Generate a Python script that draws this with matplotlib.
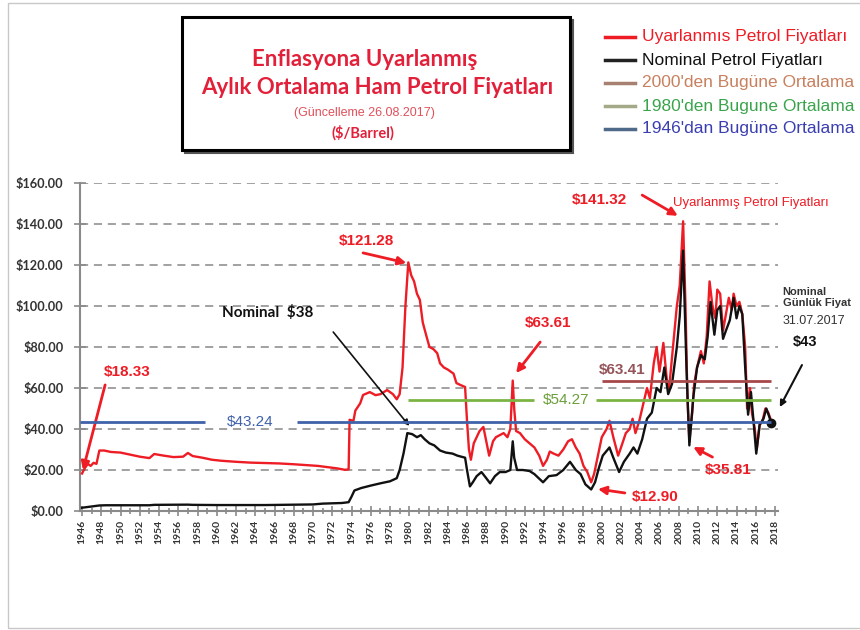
import matplotlib
matplotlib.use('Agg')
import matplotlib.pyplot as plt
from matplotlib.lines import Line2D
from matplotlib.patches import Rectangle

# enflasyona uyarlanmis aylik ortalama ham petrol fiyati ($/varil)
adj_years = [1946.0, 1946.3, 1946.6, 1946.9, 1947.2, 1947.5, 1947.8, 1948.3, 1949.0, 1950.0,
             1951.0, 1952.0, 1953.0, 1953.5, 1954.5, 1955.5, 1956.5, 1957.0, 1957.5, 1958.5,
             1959.5, 1960.5, 1962.0, 1963.5, 1965.0, 1966.5, 1968.0, 1969.5, 1970.5, 1971.5,
             1972.5, 1973.3, 1973.7, 1973.8, 1974.2, 1974.4, 1974.9, 1975.2, 1975.9, 1976.5,
             1977.0, 1977.7, 1978.3, 1978.7, 1979.0, 1979.3, 1979.6, 1979.9, 1980.2, 1980.5,
             1980.8, 1981.1, 1981.4, 1981.8, 1982.1, 1982.5, 1982.9, 1983.2, 1983.6, 1984.0,
             1984.6, 1984.9, 1985.3, 1985.8, 1986.0, 1986.2, 1986.4, 1986.7, 1987.0, 1987.3,
             1987.7, 1988.0, 1988.3, 1988.7, 1989.0, 1989.4, 1989.8, 1990.2, 1990.5, 1990.75,
             1990.9, 1991.1, 1991.5, 1992.0, 1992.5, 1993.0, 1993.5, 1993.9, 1994.3, 1994.6,
             1995.0, 1995.5, 1996.0, 1996.5, 1996.9, 1997.3, 1997.7, 1998.1, 1998.5, 1998.9,
             1999.2, 1999.6, 2000.0, 2000.5, 2000.8, 2001.2, 2001.7, 2002.0, 2002.5, 2002.9,
             2003.2, 2003.5, 2003.9, 2004.3, 2004.7, 2005.0, 2005.4, 2005.7, 2006.0, 2006.4,
             2006.8, 2007.0, 2007.4, 2007.8, 2008.1, 2008.45, 2008.7, 2008.9, 2009.1, 2009.4,
             2009.6, 2009.9, 2010.3, 2010.6, 2010.9, 2011.2, 2011.5, 2011.8, 2012.0, 2012.3,
             2012.6, 2012.9, 2013.2, 2013.5, 2013.7, 2014.0, 2014.3, 2014.6, 2014.9, 2015.1,
             2015.4, 2015.6, 2015.9, 2016.1, 2016.4, 2016.7, 2017.0, 2017.3, 2017.6]
adj_prices = [18.3, 21, 23, 22, 23.5, 23, 29.5, 29.5, 28.8, 28.5,
              27.5, 26.5, 25.8, 27.8, 27, 26.3, 26.5, 28.3, 26.8, 26,
              25, 24.5, 24, 23.6, 23.4, 23.2, 22.8, 22.3, 22, 21.4,
              20.8, 20.1, 20.3, 44.5, 44, 49, 52.5, 56.6, 58, 56.5,
              57, 59, 57, 54.5, 57, 70, 100, 121.28, 115, 112,
              106, 103, 92, 85, 80, 79, 77, 72, 70, 69,
              67, 62.4, 61.5, 60.5, 44, 30, 25, 33, 36, 39,
              41, 34, 27, 34, 36, 37, 38, 36, 40, 63.61,
              50, 39, 38, 35, 33, 31, 27, 22, 25, 29,
              28, 27, 30, 34, 35, 31, 28, 22, 19, 14,
              18, 27, 36, 40, 44, 36, 27, 31, 38, 40,
              45, 38, 44, 52, 60, 55, 72, 80, 68, 82,
              62, 60, 80, 100, 110, 141.32, 100, 55, 34, 48,
              62, 70, 78, 72, 85, 112, 100, 94, 108, 106,
              88, 96, 104, 98, 106, 100, 102, 96, 80, 50,
              60, 48, 40, 30, 42, 44, 50, 48, 44]

# nominal fiyat
nom_years = [1946.0, 1946.5, 1947.0, 1947.8, 1948.5, 1953.0, 1953.5, 1957.0, 1957.5, 1960.0,
             1965.0, 1970.0, 1971.0, 1973.0, 1973.7, 1974.0, 1974.3, 1975.0, 1976.0, 1977.0,
             1978.0, 1978.7, 1979.0, 1979.4, 1979.8, 1980.3, 1980.8, 1981.2, 1981.6, 1982.1,
             1982.6, 1983.2, 1983.8, 1984.5, 1985.0, 1985.8, 1986.0, 1986.3, 1986.6, 1987.0,
             1987.5, 1988.0, 1988.4, 1988.9, 1989.4, 1990.0, 1990.5, 1990.75, 1990.9, 1991.2,
             1991.8, 1992.5, 1993.0, 1993.9, 1994.5, 1995.3, 1996.0, 1996.7, 1997.3, 1997.8,
             1998.3, 1998.9, 1999.3, 1999.7, 2000.1, 2000.8, 2001.2, 2001.8, 2002.3, 2002.9,
             2003.3, 2003.7, 2004.2, 2004.7, 2005.2, 2005.7, 2006.1, 2006.5, 2006.9, 2007.3,
             2007.8, 2008.1, 2008.45, 2008.8, 2009.1, 2009.5, 2009.9, 2010.3, 2010.7, 2011.0,
             2011.3, 2011.7, 2012.0, 2012.3, 2012.6, 2012.9, 2013.3, 2013.7, 2014.0, 2014.3,
             2014.6, 2014.9, 2015.2, 2015.5, 2015.8, 2016.05, 2016.4, 2016.8, 2017.1, 2017.4,
             2017.6]
nom_prices = [1.6, 1.9, 2.2, 2.7, 2.8, 2.8, 3.0, 3.1, 3.0, 2.9,
              2.9, 3.2, 3.6, 3.9, 4.3, 7, 10, 11.2, 12.4, 13.5,
              14.5, 16, 20, 28, 38, 37.5, 36, 37, 35, 33,
              32, 29.5, 28.5, 28, 27, 26, 20, 12, 14, 17,
              19, 16, 13.5, 17, 19, 19, 20, 34, 26, 20,
              20, 19.5, 18, 14, 17, 17.5, 20, 24, 20, 18,
              13, 10.5, 14, 21, 27, 31, 26, 19, 24, 28,
              31, 28, 35, 45, 48, 60, 58, 70, 57, 62,
              80, 95, 127, 70, 32, 55, 70, 76, 74, 85,
              102, 86, 98, 100, 84, 88, 93, 104, 94, 100,
              96, 70, 47, 58, 42, 28, 42, 45, 50, 46,
              43]

avg_1946 = 43.24
avg_1980 = 54.27
avg_2000 = 63.41

y_ticks = [0, 20, 40, 60, 80, 100, 120, 140, 160]
x_ticks = list(range(1946, 2019, 2))

RED = '#ee1c25'
BLUE = '#3f62aa'
GREEN = '#7cb443'
BROWN = '#a8484a'
TITLE_RED = '#e2203a'

plt.rcParams['font.family'] = ['Liberation Sans', 'DejaVu Sans']

fig = plt.figure(figsize=(8.6, 6.3), dpi=100)
W, H = 860, 630

# dis cerceve
fig.add_artist(Rectangle((8 / W, 2 / H), 1, 625 / H, transform=fig.transFigure,
                         fill=False, edgecolor='#c8c8c8', lw=1))

ax = fig.add_axes([80 / W, 119 / H, 698 / W, 328 / H])
ax.set_xlim(1945.79, 2018.31)
ax.set_ylim(0, 160)

ax.set_yticks(y_ticks)
ax.yaxis.grid(True, color='#9a9a9a', lw=1.3, dashes=(4.5, 3.2))
ax.set_axisbelow(True)
for s in ['top', 'right']:
    ax.spines[s].set_visible(False)
for s in ['left', 'bottom']:
    ax.spines[s].set_color('#8a8a8a')
    ax.spines[s].set_linewidth(1.5)

ax.set_yticklabels(['\\$%.2f' % v for v in y_ticks], fontfamily=['Lato', 'DejaVu Sans'],
                   fontweight='bold', fontsize=9.2, color='#333333')
ax.set_xticks(x_ticks)
ax.set_xticks(range(1946, 2019), minor=True)
ax.set_xticklabels([str(y) for y in x_ticks], rotation=90, fontfamily=['Lato', 'DejaVu Sans'],
                   fontweight='bold', fontsize=7.5, color='#333333')
ax.tick_params(axis='both', which='both', direction='inout', color='#8a8a8a', width=1.2)
ax.tick_params(axis='x', which='major', length=7, pad=3)
ax.tick_params(axis='x', which='minor', length=5)
ax.tick_params(axis='y', length=8, pad=8)

ax.plot(adj_years, adj_prices, color=RED, lw=1.7, zorder=3)
ax.plot(nom_years, nom_prices, color='#111111', lw=1.7, zorder=3)
ax.plot(nom_years[-1:], nom_prices[-1:], 'o', color='#111111', ms=6, zorder=4)

# ortalama cizgileri (etiket icin bosluk birakilarak)
ax.hlines(avg_1946, 1945.79, 1958.8, color=BLUE, lw=2, zorder=4)
ax.hlines(avg_1946, 1968.3, 2017.6, color=BLUE, lw=2, zorder=4)
ax.text(1963.5, avg_1946, '\\$%.2f' % avg_1946, color=BLUE, fontsize=11,
        ha='center', va='center', zorder=5)
ax.hlines(avg_1980, 1979.9, 1993.0, color=GREEN, lw=2, zorder=4)
ax.hlines(avg_1980, 1999.4, 2017.6, color=GREEN, lw=2, zorder=4)
ax.text(1996.3, avg_1980, '\\$%.2f' % avg_1980, color='#6a9e3a', fontsize=11,
        ha='center', va='center', zorder=5)
ax.hlines(avg_2000, 2000.0, 2017.6, color=BROWN, lw=2, zorder=4)
ax.text(2002.1, avg_2000 + 5.5, '\\$%.2f' % avg_2000, color='#94545a', fontsize=11,
        fontweight='bold', ha='center', va='center', zorder=5)

red_arrow = dict(arrowstyle='-|>', color=RED, lw=2, mutation_scale=12, shrinkA=0, shrinkB=0)
black_arrow = dict(arrowstyle='-|>', color='#111111', lw=1.2, mutation_scale=9, shrinkA=0, shrinkB=0)

ax.text(1950.7, 67.8, '\\$18.33', color=RED, fontsize=11, fontweight='bold', ha='center', va='center')
ax.annotate('', xy=(1946.1, 20), xytext=(1948.4, 61.5), arrowprops=red_arrow)

ax.text(1975.6, 131.5, '\\$121.28', color=RED, fontsize=11, fontweight='bold', ha='center', va='center')
ax.annotate('', xy=(1979.7, 121), xytext=(1975.2, 125.9), arrowprops=red_arrow)

ax.text(1965.3, 96.6, 'Nominal  \\$38', color='#111111', fontsize=11, fontweight='bold',
        fontfamily=['Lato', 'DejaVu Sans'], ha='center', va='center')
ax.annotate('', xy=(1980.0, 41.5), xytext=(1972.1, 87.3), arrowprops=black_arrow)

ax.text(1994.4, 91.5, '\\$63.61', color=RED, fontsize=11, fontweight='bold', ha='center', va='center')
ax.annotate('', xy=(1991.1, 67.3), xytext=(1993.6, 82.4), arrowprops=red_arrow)

ax.text(1999.8, 151.7, '\\$141.32', color=RED, fontsize=11, fontweight='bold', ha='center', va='center')
ax.annotate('', xy=(2007.9, 144), xytext=(2004.2, 154.1), arrowprops=red_arrow)
ax.text(2007.4, 150.2, 'Uyarlanmış Petrol Fiyatları', color=RED, fontsize=9.5,
        fontfamily=['Liberation Sans Narrow', 'Liberation Sans', 'DejaVu Sans'],
        ha='left', va='center', clip_on=False)

ax.text(2005.5, 6.8, '\\$12.90', color=RED, fontsize=11, fontweight='bold', ha='center', va='center')
ax.annotate('', xy=(1999.6, 10.7), xytext=(2002.4, 8.8), arrowprops=red_arrow)

ax.text(2013.1, 20, '\\$35.81', color=RED, fontsize=11, fontweight='bold', ha='center', va='center')
ax.annotate('', xy=(2009.5, 31.2), xytext=(2011.5, 26.3), arrowprops=red_arrow)

ax.text(2018.8, 107, 'Nominal', color='#333333', fontsize=8, fontweight='bold',
        ha='left', va='center', clip_on=False)
ax.text(2018.8, 101.3, 'Günlük Fiyat', color='#333333', fontsize=8, fontweight='bold',
        ha='left', va='center', clip_on=False)
ax.text(2018.8, 92.5, '31.07.2017', color='#333333', fontsize=9,
        ha='left', va='center', clip_on=False)
ax.text(2019.8, 82.4, '\\$43', color='#111111', fontsize=10.5, fontweight='bold',
        ha='left', va='center', clip_on=False)
ax.annotate('', xy=(2018.5, 50.7), xytext=(2020.8, 71.2), arrowprops=dict(black_arrow, lw=1.5),
            annotation_clip=False)

# baslik kutusu
fig.add_artist(Rectangle((185 / W, (630 - 153) / H), 388 / W, 133 / H, transform=fig.transFigure,
                         facecolor='#555555', edgecolor='#555555', lw=1.5))
fig.add_artist(Rectangle((182 / W, (630 - 150) / H), 388 / W, 133 / H, transform=fig.transFigure,
                         facecolor='white', edgecolor='black', lw=2.2))
title_font = ['Lato', 'DejaVu Sans']
fig.text(365 / W, 1 - 60 / H, 'Enflasyona Uyarlanmış', color=TITLE_RED, fontsize=16,
         fontweight='bold', fontfamily=title_font, ha='center', va='center')
fig.text(377 / W, 1 - 88 / H, 'Aylık Ortalama Ham Petrol Fiyatları', color=TITLE_RED, fontsize=16,
         fontweight='bold', fontfamily=title_font, ha='center', va='center')
fig.text(364 / W, 1 - 113 / H, '(Güncelleme 26.08.2017)', color='#e0505a', fontsize=9,
         fontfamily=['Liberation Sans Narrow', 'Liberation Sans'], ha='center', va='center')
fig.text(363 / W, 1 - 133 / H, '(\\$/Barrel)', color=TITLE_RED, fontsize=10.5,
         fontweight='bold', fontfamily=title_font, ha='center', va='center')

# legend
legend_labels = ["Uyarlanmıs Petrol Fiyatları", "Nominal Petrol Fiyatları",
                 "2000'den Bugüne Ortalama", "1980'den Bugune Ortalama", "1946'dan Bugüne Ortalama"]
legend_line_colors = [RED, '#222222', '#a88072', '#a4aa88', '#4f6a88']
legend_text_colors = [RED, '#111111', '#c8805e', '#3aa44c', '#3a3eb0']
for i, lab in enumerate(legend_labels):
    yy = 1 - (37 + 23 * i) / H
    fig.add_artist(Line2D([605 / W, 635 / W], [yy, yy], transform=fig.transFigure,
                          color=legend_line_colors[i], lw=2.5))
    fig.text(642 / W, yy, lab, color=legend_text_colors[i], fontsize=12.5, ha='left', va='center')

fig.savefig('out.png', dpi=100)
